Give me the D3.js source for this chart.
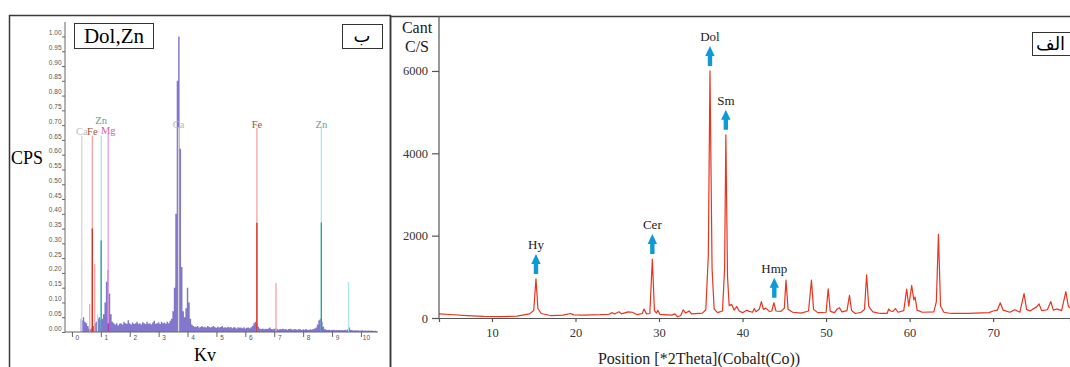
<!DOCTYPE html>
<html>
<head>
<meta charset="utf-8">
<script src="https://cdn.jsdelivr.net/npm/d3@7/dist/d3.min.js"></script>
<style>
  body { margin: 0; background: #fff; }
  svg { display: block; }
</style>
</head>
<body>
<svg id="chart" width="1070" height="367"></svg>
<script>
// ---- EDS spectrum (left, ب) ----
const edsStartKv = 0.3;
const edsStepKv = 0.05;
const edsCps = [
  0.045, 0.04, 0.05, 0.035, 0.03, 0.02, 0.012, 0.01, 0.015, 0.02, 0.03, 0.035, 0.045, 0.05, 0.04, 0.045, 0.06, 0.10, 0.17, 0.21,
  0.13, 0.06, 0.035, 0.03, 0.025, 0.03, 0.022, 0.028, 0.03, 0.025, 0.035, 0.03, 0.028, 0.04, 0.03, 0.025, 0.032, 0.027, 0.03, 0.035,
  0.028, 0.03, 0.025, 0.033, 0.03, 0.027, 0.035, 0.028, 0.03, 0.025, 0.032, 0.038, 0.028, 0.03, 0.033, 0.027, 0.035, 0.03, 0.032, 0.028,
  0.035, 0.03, 0.038, 0.045, 0.07, 0.15, 0.40, 0.85, 1.00, 0.62, 0.22, 0.07, 0.05, 0.08, 0.15, 0.10, 0.045, 0.025, 0.02, 0.018,
  0.018, 0.02, 0.015, 0.017, 0.02, 0.016, 0.018, 0.015, 0.02, 0.017, 0.015, 0.018, 0.02, 0.016, 0.014, 0.018, 0.015, 0.017, 0.02, 0.015,
  0.016, 0.014, 0.018, 0.015, 0.017, 0.013, 0.016, 0.015, 0.012, 0.016, 0.014, 0.015, 0.013, 0.016, 0.012, 0.014, 0.015, 0.013, 0.016, 0.02,
  0.03, 0.035, 0.028, 0.018, 0.012, 0.01, 0.012, 0.009, 0.011, 0.01, 0.012, 0.015, 0.01, 0.009, 0.011, 0.012, 0.01, 0.008, 0.01, 0.009,
  0.011, 0.009, 0.01, 0.008, 0.01, 0.011, 0.009, 0.008, 0.01, 0.009, 0.008, 0.01, 0.009, 0.007, 0.009, 0.008, 0.01, 0.008, 0.007, 0.009,
  0.008, 0.01, 0.012, 0.015, 0.025, 0.04, 0.045, 0.035, 0.018, 0.01, 0.008, 0.007, 0.008, 0.006, 0.007, 0.008, 0.006, 0.007, 0.006, 0.007,
  0.006, 0.007, 0.006, 0.008, 0.006, 0.01, 0.015, 0.008, 0.006, 0.005, 0.006, 0.005, 0.006, 0.004, 0.005, 0.006, 0.004, 0.005, 0.004, 0.005,
  0.004, 0.005, 0.004, 0.003, 0.004, 0.003
];
const kvTicks = [0, 1, 2, 3, 4, 5, 6, 7, 8, 9, 10];
const cpsTicks = [0.00, 0.05, 0.10, 0.15, 0.20, 0.25, 0.30, 0.35, 0.40, 0.45, 0.50,
                  0.55, 0.60, 0.65, 0.70, 0.75, 0.80, 0.85, 0.90, 0.95, 1.00];

// element marker lines
const lineElement = ['Ca', 'Fe', 'Fe', 'Fe', 'Zn', 'Zn', 'Mg', 'Ca', 'Fe', 'Fe', 'Zn', 'Zn'];
const lineKv      = [0.34, 0.615, 0.705, 0.79, 0.884, 1.012, 1.254, 3.69, 6.40, 7.06, 8.63, 9.57];
const lineCps     = [0.665, 0.095, 0.665, 0.23, 0.06, 0.665, 0.67, 0.69, 0.69, 0.166, 0.69, 0.17];
const lineCoreCps = [0, 0, 0.35, 0, 0, 0.31, 0.03, 0, 0.37, 0, 0.37, 0];
const lineLabelled = [true, false, true, false, false, true, true, true, true, false, true, false];

const elementColor = {
  Ca: { light: '#d6d6d6', dark: '#bdbdbd', text: '#bcbcbc' },
  Fe: { light: '#f2a3a3', dark: '#d42a1e', text: '#a5502e' },
  Zn: { light: '#a9e6e6', dark: '#1fa3a0', text: '#5f9c9a' },
  Mg: { light: '#e59be0', dark: '#a72aa6', text: '#d3649f' }
};

// ---- XRD pattern (right, الف) ----
const xrdTheta = [
  3.66, 5, 7, 9, 11, 13, 14.5, 15.0, 15.27, 15.5, 15.9, 17, 18.5, 19.4, 19.8, 21, 23, 24.0, 24.4, 24.7,
  25.2, 25.5, 26.3, 26.8, 27.4, 28.0, 28.2, 28.5, 28.9, 29.2, 29.45, 29.7, 29.85, 30.1, 31.5, 31.9, 32.2, 32.6, 32.9, 33.2,
  33.6, 33.9, 35.2, 35.6, 35.9, 36.1, 36.35, 36.6, 37.0, 37.6, 37.85, 38.0, 38.2, 38.4, 38.7, 39.0, 39.3, 39.6, 40.0, 40.5,
  40.8, 41.2, 41.4, 41.6, 42.0, 42.25, 42.5, 42.8, 43.2, 43.5, 43.75, 44.0, 44.6, 45.0, 45.2, 45.45, 46, 47, 47.9, 48.25,
  48.5, 49, 50, 50.25, 50.5, 51, 51.3, 51.6, 51.9, 52.5, 52.8, 53.05, 53.5, 54.2, 54.6, 54.85, 55.1, 55.3, 55.6, 56.5,
  57.3, 57.5, 57.7, 58.0, 58.3, 58.6, 59.3, 59.65, 59.9, 60.25, 60.5, 60.65, 60.9, 61.5, 62.9, 63.2, 63.45, 63.7, 64.1, 65,
  67, 69.5, 70, 70.5, 70.85, 71.2, 72.0, 72.6, 73.2, 73.7, 74, 74.4, 75.2, 75.5, 75.8, 76.5, 76.9, 77.2, 77.6, 78.2,
  78.7, 79.0, 79.2
];
const xrdCounts = [
  100, 85, 60, 40, 35, 45, 100, 180, 950, 230, 110, 60, 70, 110, 75, 70, 80, 90, 130, 95,
  150, 100, 150, 140, 80, 110, 220, 100, 110, 1430, 180, 120, 190, 90, 70, 100, 30, 60, 200, 120,
  170, 100, 120, 200, 1500, 6000, 1200, 220, 130, 170, 1200, 4450, 1000, 300, 330, 190, 280, 170, 130, 190,
  160, 140, 230, 150, 210, 400, 210, 240, 160, 170, 370, 170, 160, 240, 920, 210, 140, 120, 170, 920,
  210, 130, 140, 710, 160, 130, 210, 250, 150, 180, 550, 180, 110, 140, 210, 1050, 290, 220, 150, 110,
  110, 220, 170, 160, 230, 140, 180, 700, 290, 790, 440, 510, 190, 140, 150, 400, 2030, 290, 140, 110,
  110, 130, 170, 190, 370, 190, 140, 200, 140, 590, 210, 170, 270, 340, 180, 200, 400, 190, 220, 180,
  640, 290, 240
];
const thetaTicks = [10, 20, 30, 40, 50, 60, 70];
const countTicks = [0, 2000, 4000, 6000];
const phaseNames = ['Hy', 'Cer', 'Dol', 'Sm', 'Hmp'];
const phaseTheta = [15.27, 29.2, 36.1, 38.0, 43.8];

const svg = d3.select('#chart');
const serif = '"Liberation Serif", "Times New Roman", serif';

// ================= left panel =================
const left = svg.append('g');

left.append('path')
  .attr('d', 'M9.5,367 V15.5 H390.5 V367')
  .attr('fill', 'none')
  .attr('stroke', '#3a3a3a')
  .attr('stroke-width', 1.5);

const xKv = d3.scaleLinear().domain([-0.24, 10.59]).range([65, 378]);
const yCps = d3.scaleLinear().domain([0, 1.049]).range([332, 22]);

const edsPoints = edsCps.map((v, i) => ({ kv: edsStartKv + i * edsStepKv, v }));

left.append('path')
  .datum(edsPoints)
  .attr('fill', '#7b70c9')
  .attr('fill-opacity', 0.95)
  .attr('d', d3.area()
    .curve(d3.curveStep)
    .x(d => xKv(d.kv))
    .y0(yCps(0))
    .y1(d => yCps(d.v)));

const lines = lineKv.map((kv, i) => ({
  kv, el: lineElement[i], top: lineCps[i], core: lineCoreCps[i], labelled: lineLabelled[i]
}));

left.append('g').selectAll('line')
  .data(lines)
  .enter().append('line')
  .attr('x1', d => xKv(d.kv)).attr('x2', d => xKv(d.kv))
  .attr('y1', yCps(0)).attr('y2', d => yCps(d.top))
  .attr('stroke', d => elementColor[d.el].light)
  .attr('stroke-width', 1.3);

left.append('g').selectAll('line')
  .data(lines.filter(d => d.core > 0))
  .enter().append('line')
  .attr('x1', d => xKv(d.kv)).attr('x2', d => xKv(d.kv))
  .attr('y1', yCps(0)).attr('y2', d => yCps(d.core))
  .attr('stroke', d => elementColor[d.el].dark)
  .attr('stroke-width', 1.3);

// labels, staggered upward where they would collide
const labelG = left.append('g');
const rowEnds = [];
lines.filter(d => d.labelled).forEach(d => {
  const t = labelG.append('text')
    .attr('x', xKv(d.kv))
    .attr('text-anchor', 'middle')
    .attr('font-family', serif)
    .attr('font-size', 10.5)
    .attr('fill', elementColor[d.el].text)
    .text(d.el);
  const w = t.node().getComputedTextLength();
  const x0 = xKv(d.kv) - w / 2;
  let row = 0;
  while (rowEnds[row] !== undefined && x0 < rowEnds[row] - 1) row++;
  rowEnds[row] = x0 + w;
  t.attr('y', yCps(d.top) - 0.5 - row * 11);
});

const yAxisL = left.append('g')
  .attr('transform', `translate(${xKv.range()[0]},0)`)
  .call(d3.axisLeft(yCps).tickValues(cpsTicks).tickSize(3).tickPadding(0.5).tickFormat(d3.format('.2f')));
yAxisL.select('.domain').attr('d', `M0,${yCps(0)}V${yCps.range()[1]}`);
yAxisL.selectAll('line, path').attr('stroke', '#666');
yAxisL.selectAll('text')
  .attr('font-family', 'Arial, "Liberation Sans", sans-serif')
  .attr('font-size', 6.5)
  .attr('fill', '#555')
  .attr('y', -4);

const xAxisL = left.append('g')
  .attr('transform', `translate(0,${yCps(0)})`)
  .call(d3.axisBottom(xKv).tickValues(kvTicks).tickSize(5).tickFormat(d3.format('d')));
xAxisL.select('.domain').attr('d', `M${xKv.range()[0]},0H${xKv.range()[1]}`);
xAxisL.selectAll('line, path').attr('stroke', '#666');
xAxisL.selectAll('text')
  .attr('font-family', 'Arial, "Liberation Sans", sans-serif')
  .attr('font-size', 6.5)
  .attr('fill', '#555')
  .attr('x', 5)
  .attr('y', 3);

left.append('text')
  .attr('x', 27).attr('y', 164)
  .attr('text-anchor', 'middle')
  .attr('font-family', serif).attr('font-size', 18)
  .text('CPS');

left.append('text')
  .attr('x', 205).attr('y', 361)
  .attr('text-anchor', 'middle')
  .attr('font-family', serif).attr('font-size', 18)
  .text('Kv');

left.append('rect')
  .attr('x', 74.5).attr('y', 23.5).attr('width', 79).attr('height', 25)
  .attr('fill', '#fff').attr('stroke', '#333').attr('stroke-width', 1);
left.append('text')
  .attr('x', 114).attr('y', 43)
  .attr('text-anchor', 'middle')
  .attr('font-family', serif).attr('font-size', 21)
  .text('Dol,Zn');

left.append('rect')
  .attr('x', 342.5).attr('y', 24.5).attr('width', 40).attr('height', 24)
  .attr('fill', '#fff').attr('stroke', '#333').attr('stroke-width', 1);
left.append('text')
  .attr('x', 362).attr('y', 42)
  .attr('text-anchor', 'middle')
  .attr('font-family', '"DejaVu Sans", sans-serif').attr('font-size', 18)
  .text('ب');

// ================= right panel =================
const right = svg.append('g');

right.append('path')
  .attr('d', 'M390.5,367 V16.5 H1070')
  .attr('fill', 'none')
  .attr('stroke', '#3a3a3a')
  .attr('stroke-width', 1.5);

const xTheta = d3.scaleLinear().domain([3.66, 79.2]).range([439, 1070]);
const yCount = d3.scaleLinear().domain([0, 7335]).range([318, 16]);

const xrdPoints = xrdTheta.map((t, i) => ({ t, c: xrdCounts[i] }));

right.append('path')
  .datum(xrdPoints)
  .attr('fill', 'none')
  .attr('stroke', '#e8351f')
  .attr('stroke-width', 1.2)
  .attr('stroke-linejoin', 'round')
  .attr('d', d3.line().x(d => xTheta(d.t)).y(d => yCount(d.c)));

const xAxisR = right.append('g')
  .attr('transform', `translate(0,${yCount(0)})`)
  .call(d3.axisBottom(xTheta).tickValues(thetaTicks).tickSize(4).tickPadding(6).tickFormat(d3.format('d')));
xAxisR.selectAll('line, path').attr('stroke', '#555').attr('stroke-width', 1.2);
xAxisR.selectAll('text')
  .attr('font-family', serif).attr('font-size', 12.5).attr('fill', '#333');

const yAxisR = right.append('g')
  .attr('transform', `translate(${xTheta.range()[0]},0)`)
  .call(d3.axisLeft(yCount).tickValues(countTicks).tickSize(7).tickPadding(4).tickFormat(d3.format('d')));
yAxisR.select('.domain').attr('d', `M0,${yCount(0)}V${yCount.range()[1]}`);
yAxisR.selectAll('line, path').attr('stroke', '#555').attr('stroke-width', 1.2);
yAxisR.selectAll('text')
  .attr('font-family', serif).attr('font-size', 12.5).attr('fill', '#333');

right.append('text')
  .attr('x', 417).attr('y', 33)
  .attr('text-anchor', 'middle')
  .attr('font-family', serif).attr('font-size', 16).attr('fill', '#222')
  .text('Cant');
right.append('text')
  .attr('x', 417).attr('y', 52)
  .attr('text-anchor', 'middle')
  .attr('font-family', serif).attr('font-size', 16).attr('fill', '#222')
  .text('C/S');

right.append('text')
  .attr('x', 699).attr('y', 364)
  .attr('text-anchor', 'middle')
  .attr('font-family', serif).attr('font-size', 16).attr('fill', '#222')
  .text('Position [*2Theta](Cobalt(Co))');

// phase arrows over their peaks
const phases = phaseNames.map((name, i) => {
  const near = xrdPoints.filter(p => Math.abs(p.t - phaseTheta[i]) <= 0.3);
  return { name, t: phaseTheta[i], peak: d3.max(near, p => p.c) };
});

const arrowPath = 'M0,0 L-4.7,10 L-2.2,10 L-2.2,20 L2.2,20 L2.2,10 L4.7,10 Z';
const phaseG = right.append('g').selectAll('g')
  .data(phases)
  .enter().append('g')
  .attr('transform', d => `translate(${xTheta(d.t)},${yCount(d.peak) - 25})`);
phaseG.append('path')
  .attr('d', arrowPath)
  .attr('fill', '#0e9ad6');
phaseG.append('text')
  .attr('y', -5)
  .attr('text-anchor', 'middle')
  .attr('font-family', serif).attr('font-size', 13).attr('fill', '#222')
  .text(d => d.name);

right.append('rect')
  .attr('x', 1032.5).attr('y', 32.5).attr('width', 45).attr('height', 23)
  .attr('fill', '#fff').attr('stroke', '#333').attr('stroke-width', 1);
right.append('text')
  .attr('x', 1036).attr('y', 50)
  .attr('text-anchor', 'start')
  .attr('font-family', '"DejaVu Sans", sans-serif').attr('font-size', 18)
  .text('الف');
</script>
</body>
</html>
